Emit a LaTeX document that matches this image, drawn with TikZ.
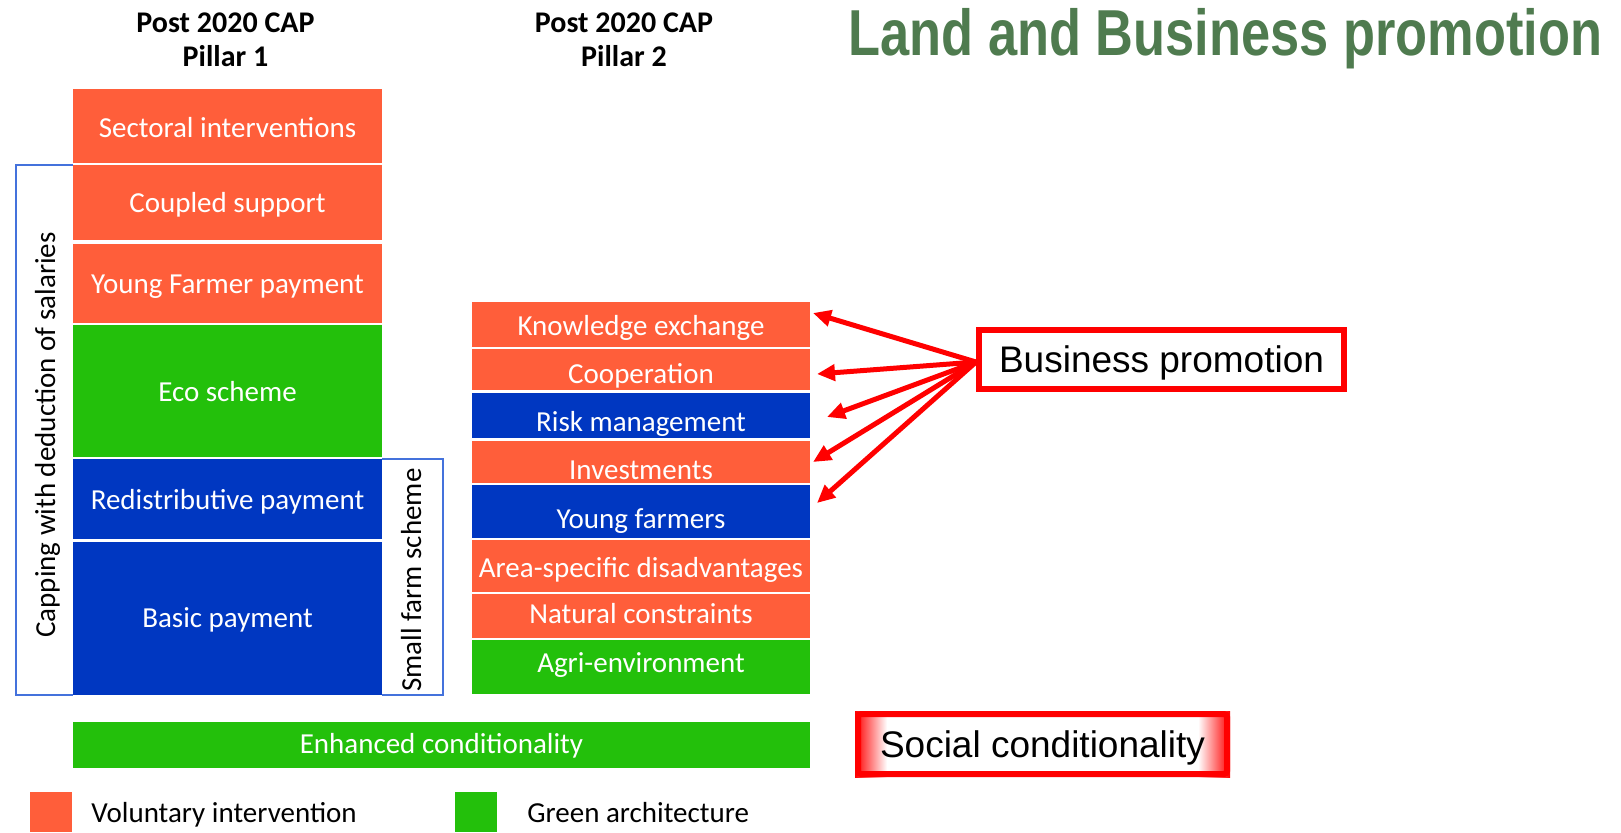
\documentclass[tikz,border=0pt]{standalone}
\usepackage{fontspec}
\setmainfont{Carlito}
\newfontfamily\arialfont{Liberation Sans}
\usetikzlibrary{arrows.meta,backgrounds}
\definecolor{vorange}{HTML}{FF5E3A}
\definecolor{ggreen}{HTML}{23C00B}
\definecolor{bblue}{HTML}{0037C1}
\definecolor{brk}{HTML}{4472DC}
\definecolor{ttl}{HTML}{4F7B4F}
\definecolor{pred}{HTML}{FF0000}
\begin{document}
\begin{tikzpicture}[x=0.5pt,y=-0.5pt,
 blk/.style={inner sep=0pt, outer sep=0pt, draw=none},
 p1/.style={blk, minimum width=154.5pt},
 p2/.style={blk, minimum width=169pt},
 lbl/.style={anchor=base, inner sep=0pt, text=white, font=\fontsize{14.5pt}{17pt}\selectfont},
 hdr/.style={anchor=base, inner sep=0pt, font=\bfseries\fontsize{15pt}{18pt}\selectfont},
 lgd/.style={anchor=base west, inner sep=0pt, font=\fontsize{14.5pt}{17pt}\selectfont},
 vlbl/.style={anchor=base, rotate=90, inner sep=0pt, font=\fontsize{14.5pt}{17pt}\selectfont},
 brkt/.style={draw=brk, line width=1pt},
 callout/.style={draw=pred, line width=3pt, inner sep=0pt, font=\arialfont\fontsize{18.5pt}{22pt}\selectfont, text height=13.3pt, text depth=0pt},
 arr/.style={draw=pred, line width=2.5pt, -{Triangle[length=9pt,width=8pt]}},
]
\useasboundingbox (0,0) rectangle (1621,832);

% title
\node[anchor=base west, inner sep=0pt, text=ttl, font=\arialfont\bfseries\fontsize{32.5pt}{38pt}\selectfont] (title) at (848,55) {\scalebox{0.806}[1]{Land and Business promotion}};

% headers
\node[hdr] (h1a) at (225.5,32) {Post 2020 CAP};
\node[hdr] (h1b) at (225.5,66) {Pillar 1};
\node[hdr] (h2a) at (624,32) {Post 2020 CAP};
\node[hdr] (h2b) at (624,66) {Pillar 2};

% pillar 1
\node[p1, fill=vorange, minimum height=37pt] (si) at (227.5,126) {};
\node[lbl] (si-t) at (227.5,137) {Sectoral interventions};
\node[p1, fill=vorange, minimum height=37.5pt] (cs) at (227.5,202.5) {};
\node[lbl] (cs-t) at (227.5,212) {Coupled support};
\node[p1, fill=vorange, minimum height=39.5pt] (yp) at (227.5,283.5) {};
\node[lbl] (yp-t) at (227.5,293) {Young Farmer payment};
\node[p1, fill=ggreen, minimum height=66pt] (es) at (227.5,391) {};
\node[lbl] (es-t) at (227.5,401) {Eco scheme};
\node[p1, fill=bblue, minimum height=40pt] (rp) at (227.5,499) {};
\node[lbl] (rp-t) at (227.5,509) {Redistributive payment};
\node[p1, fill=bblue, minimum height=76.5pt] (bpay) at (227.5,618.5) {};
\node[lbl] (bpay-t) at (227.5,627) {Basic payment};

% brackets
\draw[brkt] (cs.north west) -- ++(-57,0) |- (bpay.south west);
\draw[brkt] (rp.north east) -- ++(61,0) |- (bpay.south east);
\node[vlbl] (cap-t) at (55,435) {Capping with deduction of salaries};
\node[vlbl] (sfs-t) at (421,580) {Small farm scheme};

% pillar 2
\node[p2, fill=vorange, minimum height=22.5pt] (ke) at (641,324.5) {};
\node[lbl] (ke-t) at (641,335) {Knowledge exchange};
\node[p2, fill=vorange, minimum height=20.5pt] (co) at (641,369.5) {};
\node[lbl] (co-t) at (641,383) {Cooperation};
\node[p2, fill=bblue, minimum height=22.5pt] (rm) at (641,415.5) {};
\node[lbl] (rm-t) at (641,431) {Risk management};
\node[p2, fill=vorange, minimum height=21pt] (iv) at (641,462) {};
\node[lbl] (iv-t) at (641,479) {Investments};
\node[p2, fill=bblue, minimum height=26.5pt] (yf) at (641,511.5) {};
\node[lbl] (yf-t) at (641,528) {Young farmers};
\node[p2, fill=vorange, minimum height=26pt] (as) at (641,566) {};
\node[lbl] (as-t) at (641,577) {Area-specific disadvantages};
\node[p2, fill=vorange, minimum height=22pt] (nc) at (641,616) {};
\node[lbl] (nc-t) at (641,623) {Natural constraints};
\node[p2, fill=ggreen, minimum height=27pt] (ae) at (641,667) {};
\node[lbl] (ae-t) at (641,672) {Agri-environment};

% enhanced conditionality
\node[blk, fill=ggreen, minimum width=368.5pt, minimum height=23pt] (ec) at (441.5,745) {};
\node[lbl] (ec-t) at (441.5,753.5) {Enhanced conditionality};

% legend
\node[blk, fill=vorange, minimum width=21pt, minimum height=20pt] (lo) at (51,812) {};
\node[lgd] (lo-t) at (91,822) {Voluntary intervention};
\node[blk, fill=ggreen, minimum width=21pt, minimum height=20pt] (lg) at (476,812) {};
\node[lgd] (lg-t) at (527,822) {Green architecture};

% callouts
\node[callout, minimum width=182.5pt, minimum height=29.5pt] (bp) at (1161.5,359.5) {Business promotion};
\node[callout, rounded corners=1.5pt, minimum width=184.5pt, minimum height=30pt] (sc) at (1042.5,744) {Social conditionality};
\begin{scope}[on background layer]
\shade[left color=pred, right color=white] (sc.north west) rectangle ([xshift=16pt]sc.south west);
\shade[left color=white, right color=pred] ([xshift=-16pt]sc.north east) rectangle (sc.south east);
\end{scope}

% arrows
\coordinate (src) at ([yshift=-1.25pt]bp.west);
\draw[arr] (src) -- ([xshift=1.5pt,yshift=5.75pt]ke.east);
\draw[arr] (src) -- ([xshift=3.5pt,yshift=-2.25pt]co.east);
\draw[arr] (src) -- ([xshift=8.5pt,yshift=-0.75pt]rm.east);
\draw[arr] (src) -- ([xshift=1.5pt]iv.east);
\draw[arr] (src) -- ([xshift=3.5pt,yshift=4.25pt]yf.east);
\end{tikzpicture}
\end{document}
